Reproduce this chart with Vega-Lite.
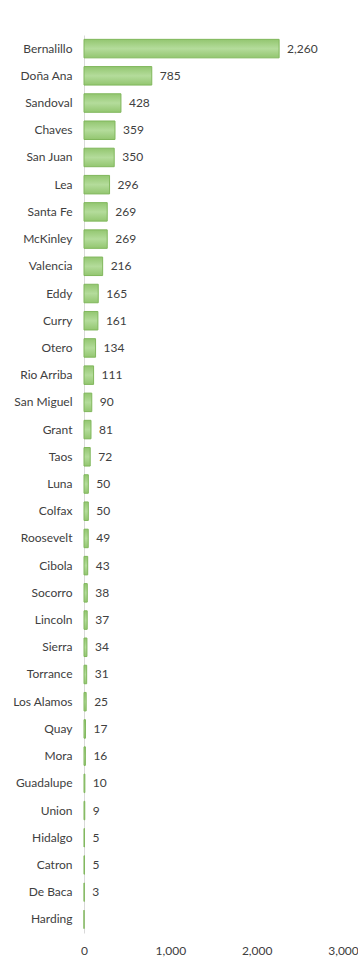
{
  "$schema": "https://vega.github.io/schema/vega-lite/v6.json",
  "autosize": {"type": "none"},
  "width": 259,
  "height": 898,
  "padding": {"left": 84, "top": 35, "right": 15, "bottom": 27},
  "background": "white",
  "config": {"view": {"stroke": null}, "font": "Lato"},
  "data": {"values": [
    {"county": "Bernalillo", "value": 2260},
    {"county": "Doña Ana", "value": 785},
    {"county": "Sandoval", "value": 428},
    {"county": "Chaves", "value": 359},
    {"county": "San Juan", "value": 350},
    {"county": "Lea", "value": 296},
    {"county": "Santa Fe", "value": 269},
    {"county": "McKinley", "value": 269},
    {"county": "Valencia", "value": 216},
    {"county": "Eddy", "value": 165},
    {"county": "Curry", "value": 161},
    {"county": "Otero", "value": 134},
    {"county": "Rio Arriba", "value": 111},
    {"county": "San Miguel", "value": 90},
    {"county": "Grant", "value": 81},
    {"county": "Taos", "value": 72},
    {"county": "Luna", "value": 50},
    {"county": "Colfax", "value": 50},
    {"county": "Roosevelt", "value": 49},
    {"county": "Cibola", "value": 43},
    {"county": "Socorro", "value": 38},
    {"county": "Lincoln", "value": 37},
    {"county": "Sierra", "value": 34},
    {"county": "Torrance", "value": 31},
    {"county": "Los Alamos", "value": 25},
    {"county": "Quay", "value": 17},
    {"county": "Mora", "value": 16},
    {"county": "Guadalupe", "value": 10},
    {"county": "Union", "value": 9},
    {"county": "Hidalgo", "value": 5},
    {"county": "Catron", "value": 5},
    {"county": "De Baca", "value": 3},
    {"county": "Harding", "value": 0}
  ]},
  "encoding": {
    "y": {
      "field": "county", "type": "nominal", "sort": null,
      "scale": {"paddingInner": 0.32, "paddingOuter": 0.16},
      "axis": {"title": null, "ticks": false, "domain": true, "domainColor": "#d9d9d9", "labelPadding": 12, "labelFontSize": 12, "labelColor": "#404040", "labelFont": "Lato"}
    },
    "x": {
      "field": "value", "type": "quantitative",
      "scale": {"domain": [0, 3000], "nice": false},
      "axis": {"title": null, "values": [0, 1000, 2000, 3000], "format": ",d", "grid": false, "ticks": false, "domain": false, "labelPadding": 12, "labelFontSize": 12, "labelColor": "#404040", "labelFont": "Lato", "labelFlush": false}
    }
  },
  "layer": [
    {
      "mark": {
        "type": "bar",
        "fill": {"gradient": "linear", "x1": 0, "y1": 0, "x2": 0, "y2": 1, "stops": [
          {"offset": 0, "color": "#93c670"},
          {"offset": 0.5, "color": "#b4dc9b"},
          {"offset": 1, "color": "#93c670"}
        ]},
        "stroke": "#80b75c",
        "strokeWidth": 1
      }
    },
    {
      "transform": [{"filter": "datum.value > 0"}],
      "mark": {"type": "text", "align": "left", "baseline": "middle", "dx": 8, "fontSize": 12, "color": "#404040", "font": "Lato"},
      "encoding": {"text": {"field": "value", "type": "quantitative", "format": ",d"}}
    }
  ]
}
